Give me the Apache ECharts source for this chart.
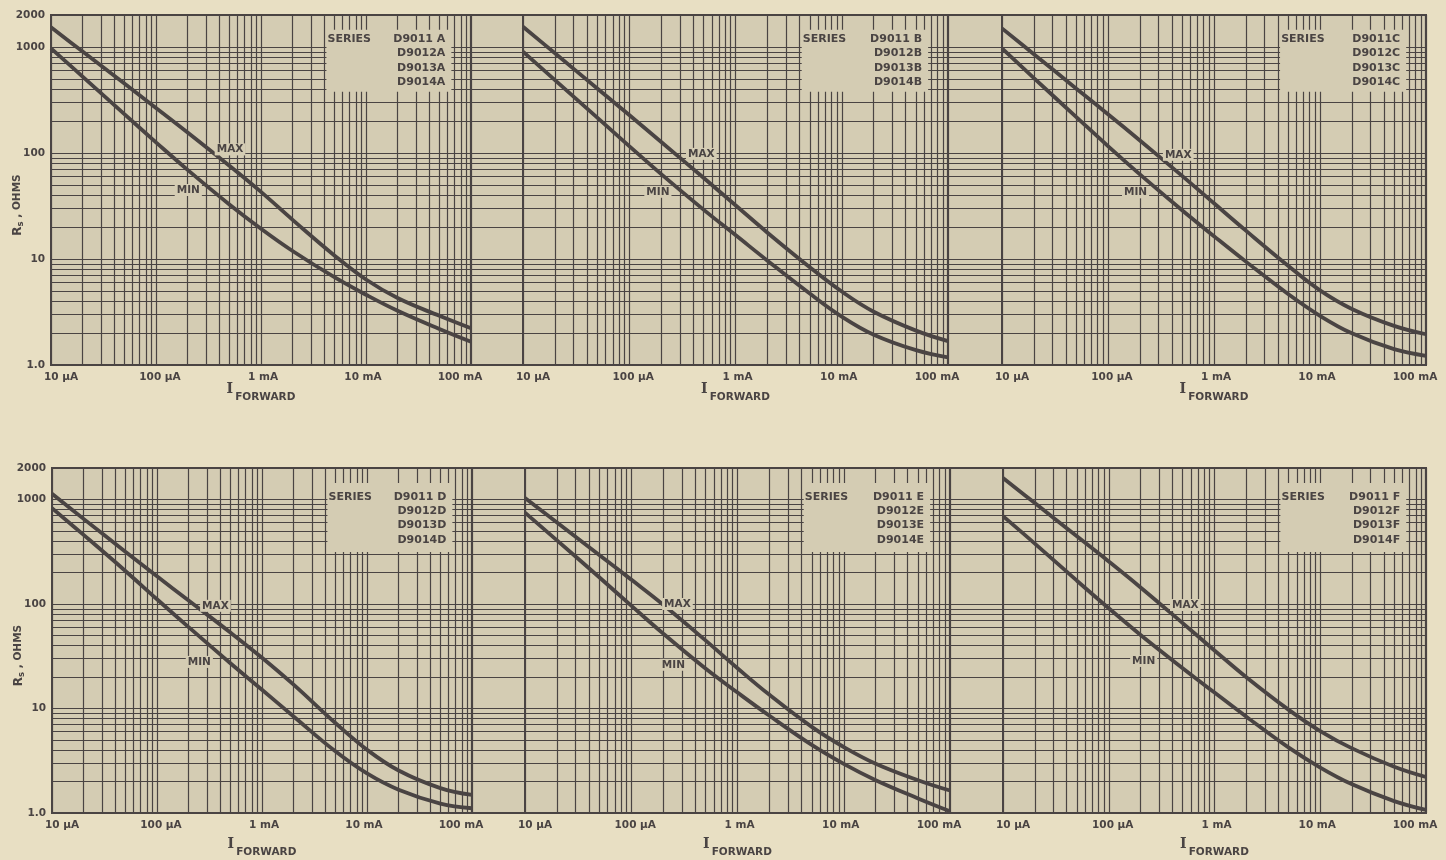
<!DOCTYPE html>
<html>
<head>
<meta charset="utf-8">
<title>Rs vs forward current</title>
<script src="https://cdn.jsdelivr.net/npm/echarts@6/dist/echarts.min.js"></script>
<style>
  html, body { margin: 0; padding: 0; background: #e8dfc3; }
  #chart { width: 1446px; height: 860px; }
</style>
</head>
<body>
<div id="chart"></div>
<script>
// forward current sample points (amps)
const currents = [1e-5, 2e-5, 5e-5, 1e-4, 2e-4, 5e-4, 1e-3, 2e-3, 5e-3, 1e-2, 2e-2, 5e-2, 1e-1];

// Rs in ohms
const maxA = [1531, 903, 451, 266, 156, 75.7, 42.9, 23.4, 10.8, 6.40, 4.28, 2.91, 2.22];
const minA = [970, 524, 232, 126, 69.3, 32.7, 19.3, 11.9, 6.73, 4.60, 3.25, 2.19, 1.66];
const maxB = [1552, 871, 406, 228, 127, 58.3, 32.1, 17.7, 8.36, 4.93, 3.18, 2.11, 1.68];
const minB = [902, 486, 215, 116, 63.1, 29.2, 16.8, 9.64, 4.72, 2.86, 1.93, 1.38, 1.18];
const maxC = [1496, 853, 406, 232, 131, 60.8, 33.5, 18.5, 8.63, 5.06, 3.38, 2.34, 1.95];
const minC = [968, 508, 219, 116, 62.8, 28.8, 16.4, 9.44, 4.67, 2.91, 1.99, 1.41, 1.22];
const maxD = [1135, 652, 316, 184, 108, 53.3, 30.6, 16.9, 7.26, 4.03, 2.55, 1.73, 1.49];
const minD = [826, 458, 207, 111, 60.1, 27.1, 15.1, 8.39, 3.89, 2.39, 1.67, 1.23, 1.11];
const maxE = [1033, 601, 294, 171, 98.4, 44.8, 24.3, 13.5, 6.67, 4.28, 2.96, 2.06, 1.64];
const minE = [748, 406, 180, 96.4, 52.0, 24.1, 14.2, 8.51, 4.48, 2.95, 2.06, 1.38, 1.04];
const maxF = [1607, 923, 444, 255, 144, 65.6, 35.9, 19.9, 9.75, 6.08, 4.15, 2.77, 2.21];
const minF = [692, 378, 167, 91.0, 50.5, 24.3, 14.2, 8.34, 4.24, 2.72, 1.88, 1.30, 1.07];

const seriesLabels = [
  'D9011 A\nD9012A\nD9013A\nD9014A',
  'D9011 B\nD9012B\nD9013B\nD9014B',
  'D9011C\nD9012C\nD9013C\nD9014C',
  'D9011 D\nD9012D\nD9013D\nD9014D',
  'D9011 E\nD9012E\nD9013E\nD9014E',
  'D9011 F\nD9012F\nD9013F\nD9014F'
];

const xTickValues = [1e-5, 1e-4, 1e-3, 1e-2, 1e-1];
const xTickLabels = ['10 µA', '100 µA', '1 mA', '10 mA', '100 mA'];
const yTickValues = [1, 10, 100, 1000, 2000];
const yTickLabels = ['1.0', '10', '100', '1000', '2000'];

// log paper rulings
const rulingSteps = [2, 3, 4, 5, 6, 7, 8, 9];
const rsDecades = [1, 10, 100];
const ifDecades = [1e-5, 1e-4, 1e-3, 1e-2];
const rsRulings = rsDecades.flatMap(d => rulingSteps.map(s => s * d)).concat([10, 100, 1000]);
const ifRulings = ifDecades.flatMap(d => rulingSteps.map(s => s * d)).concat([1e-4, 1e-3, 1e-2]);

// ---- layout (pixels / data-space anchors) ----
const sheets = [
  { left: 51, top: 15, width: 1375, height: 350 },
  { left: 52, top: 468, width: 1374, height: 345 }
];
const panels = [
  { left: 51, top: 15, width: 420, height: 350 },
  { left: 523, top: 15, width: 425, height: 350 },
  { left: 1002, top: 15, width: 424, height: 350 },
  { left: 52, top: 468, width: 420, height: 345 },
  { left: 525, top: 468, width: 425, height: 345 },
  { left: 1003, top: 468, width: 423, height: 345 }
];
const boxRows = [
  { lo: 378, hi: 1450, seriesY: 1186, partsY: 743, nameGap: 17 },
  { lo: 314, hi: 1437, seriesY: 1062, partsY: 660, nameGap: 24 }
];
const boxX = [4.2e-3, 6.5e-2];
const seriesTextX = 4.3e-3;
const partsTextX = 5.7e-2;
const maxLabelAt = [[5.07e-4, 108], [4.77e-4, 98], [4.6e-4, 96], [3.6e-4, 96], [2.72e-4, 100], [5.3e-4, 97.7]];
const minLabelAt = [[2.03e-4, 44.7], [1.86e-4, 43], [1.82e-4, 42.5], [2.53e-4, 27.9], [2.49e-4, 26.2], [2.14e-4, 28.5]];

const INK = '#4a4443';
const PAPER = '#d4ccb3';
const PAGE = '#e8dfc3';
const FONT = '"DejaVu Sans", sans-serif';

const maxData = [maxA, maxB, maxC, maxD, maxE, maxF];
const minData = [minA, minB, minC, minD, minE, minF];
const tickShift = [[0, 0, 0, 20], [0, 0, 0, 8], [0, 0, 0, 4], [0, 6, 0, 0], [0, 22, 0, 0]];

const chart = echarts.init(document.getElementById('chart'));

const grid = [], xAxis = [], yAxis = [], series = [];

sheets.forEach((s, i) => {
  grid.push({ ...s, show: true, backgroundColor: PAPER, borderColor: INK, borderWidth: 2, outerBoundsMode: 'none' });
  xAxis.push({ type: 'value', gridIndex: i, min: 0, max: 1, show: false });
  yAxis.push({ type: 'log', gridIndex: i, min: 1, max: 2000, show: false });
  series.push({
    type: 'lines', coordinateSystem: 'cartesian2d', xAxisIndex: i, yAxisIndex: i,
    z: 1, silent: true, animation: false,
    lineStyle: { color: INK, width: 1.2, opacity: 1 },
    data: rsRulings.map(v => ({ coords: [[0, v], [1, v]] }))
  });
});

const tickRich = {};
tickShift.forEach((p, i) => {
  tickRich['t' + i] = { padding: p, color: INK, fontFamily: FONT, fontSize: 10.5, fontWeight: 'bold' };
});

panels.forEach((p, k) => {
  const gi = k + 2;
  const row = k < 3 ? 0 : 1;
  const leftCol = k % 3 === 0;
  const box = boxRows[row];

  grid.push({ ...p, show: false, outerBoundsMode: 'none' });

  xAxis.push({
    type: 'log', gridIndex: gi, min: 1e-5, max: 1e-1,
    axisLine: { show: false }, axisTick: { show: false }, splitLine: { show: false },
    axisLabel: {
      show: true, customValues: xTickValues, margin: 7,
      color: INK, fontFamily: FONT, fontSize: 10.5, fontWeight: 'bold',
      formatter: v => {
        const i = Math.round(Math.log10(v)) + 5;
        return '{t' + i + '|' + xTickLabels[i] + '}';
      },
      rich: tickRich
    },
    name: '{i|I}{f|FORWARD}', nameLocation: 'middle', nameGap: box.nameGap, nameMoveOverlap: false,
    nameTextStyle: {
      rich: {
        i: { fontFamily: '"DejaVu Serif", serif', fontSize: 14, fontWeight: 'bold', color: INK, padding: [0, 2, 8, 0] },
        f: { fontFamily: FONT, fontSize: 10.5, fontWeight: 'bold', color: INK, padding: [9, 0, 0, 0] }
      }
    }
  });

  yAxis.push({
    type: 'log', gridIndex: gi, min: 1, max: 2000,
    axisLine: { show: false }, axisTick: { show: false }, splitLine: { show: false },
    axisLabel: leftCol ? {
      show: true, customValues: yTickValues, margin: 6,
      color: INK, fontFamily: FONT, fontSize: 10.5, fontWeight: 'bold',
      formatter: v => yTickLabels[yTickValues.indexOf(Math.round(v))]
    } : { show: false },
    name: leftCol ? '{r|R}{s|s}{o| , OHMS}' : '',
    nameLocation: 'middle', nameRotate: 90, nameGap: 26, nameMoveOverlap: false,
    nameTextStyle: {
      padding: [0, 30, 0, 0],
      rich: {
        r: { fontFamily: FONT, fontSize: 12, fontWeight: 'bold', color: INK },
        s: { fontFamily: FONT, fontSize: 8.5, fontWeight: 'bold', color: INK, padding: [6, 0, 0, 0] },
        o: { fontFamily: FONT, fontSize: 10.5, fontWeight: 'bold', color: INK }
      }
    }
  });

  // vertical rulings and panel edges
  series.push({
    type: 'lines', coordinateSystem: 'cartesian2d', xAxisIndex: gi, yAxisIndex: gi,
    z: 1, silent: true, animation: false,
    lineStyle: { color: INK, width: 1.2, opacity: 1 },
    data: ifRulings.map(v => ({ coords: [[v, 1], [v, 2000]] })).concat(
      [1e-5, 1e-1].map(v => ({ coords: [[v, 1], [v, 2000]], lineStyle: { width: 2.2 } }))
    )
  });

  // blank patch behind the type list
  series.push({
    type: 'custom', xAxisIndex: gi, yAxisIndex: gi, z: 3, silent: true, animation: false,
    data: [[boxX[0], box.lo, boxX[1], box.hi]],
    encode: { x: [0, 2], y: [1, 3] },
    renderItem: (params, api) => {
      const a = api.coord([api.value(0), api.value(3)]);
      const b = api.coord([api.value(2), api.value(1)]);
      return { type: 'rect', shape: { x: a[0], y: a[1], width: b[0] - a[0], height: b[1] - a[1] }, style: { fill: PAPER } };
    }
  });

  const lineOpts = {
    type: 'line', xAxisIndex: gi, yAxisIndex: gi, z: 4, showSymbol: false, symbol: 'none',
    smooth: 0.4, animation: false, silent: true,
    lineStyle: { color: INK, width: 3.8 }
  };
  series.push({ ...lineOpts, name: 'MAX', data: currents.map((c, i) => [c, maxData[k][i]]) });

  const labelBase = { show: true, color: INK, fontFamily: FONT, fontSize: 10.5, fontWeight: 'bold' };
  series.push({
    ...lineOpts, name: 'MIN', data: currents.map((c, i) => [c, minData[k][i]]),
    markPoint: {
      silent: true, animation: false, symbolSize: 0,
      data: [
        { coord: maxLabelAt[k], label: { ...labelBase, formatter: 'MAX', position: 'inside', backgroundColor: PAPER, padding: [1, 2, 0, 2] } },
        { coord: minLabelAt[k], label: { ...labelBase, formatter: 'MIN', position: 'inside', backgroundColor: PAPER, padding: [1, 2, 0, 2] } },
        { coord: [seriesTextX, box.seriesY], label: { ...labelBase, fontSize: 11, formatter: 'SERIES', position: 'right', distance: 0 } },
        { coord: [partsTextX, box.partsY], label: { ...labelBase, fontSize: 11, formatter: seriesLabels[k], position: 'left', distance: 0, align: 'right', lineHeight: 14.4 } }
      ]
    }
  });
});

chart.setOption({
  backgroundColor: PAGE,
  animation: false,
  grid, xAxis, yAxis, series
});

window.addEventListener('resize', chart.resize);
</script>
</body>
</html>
